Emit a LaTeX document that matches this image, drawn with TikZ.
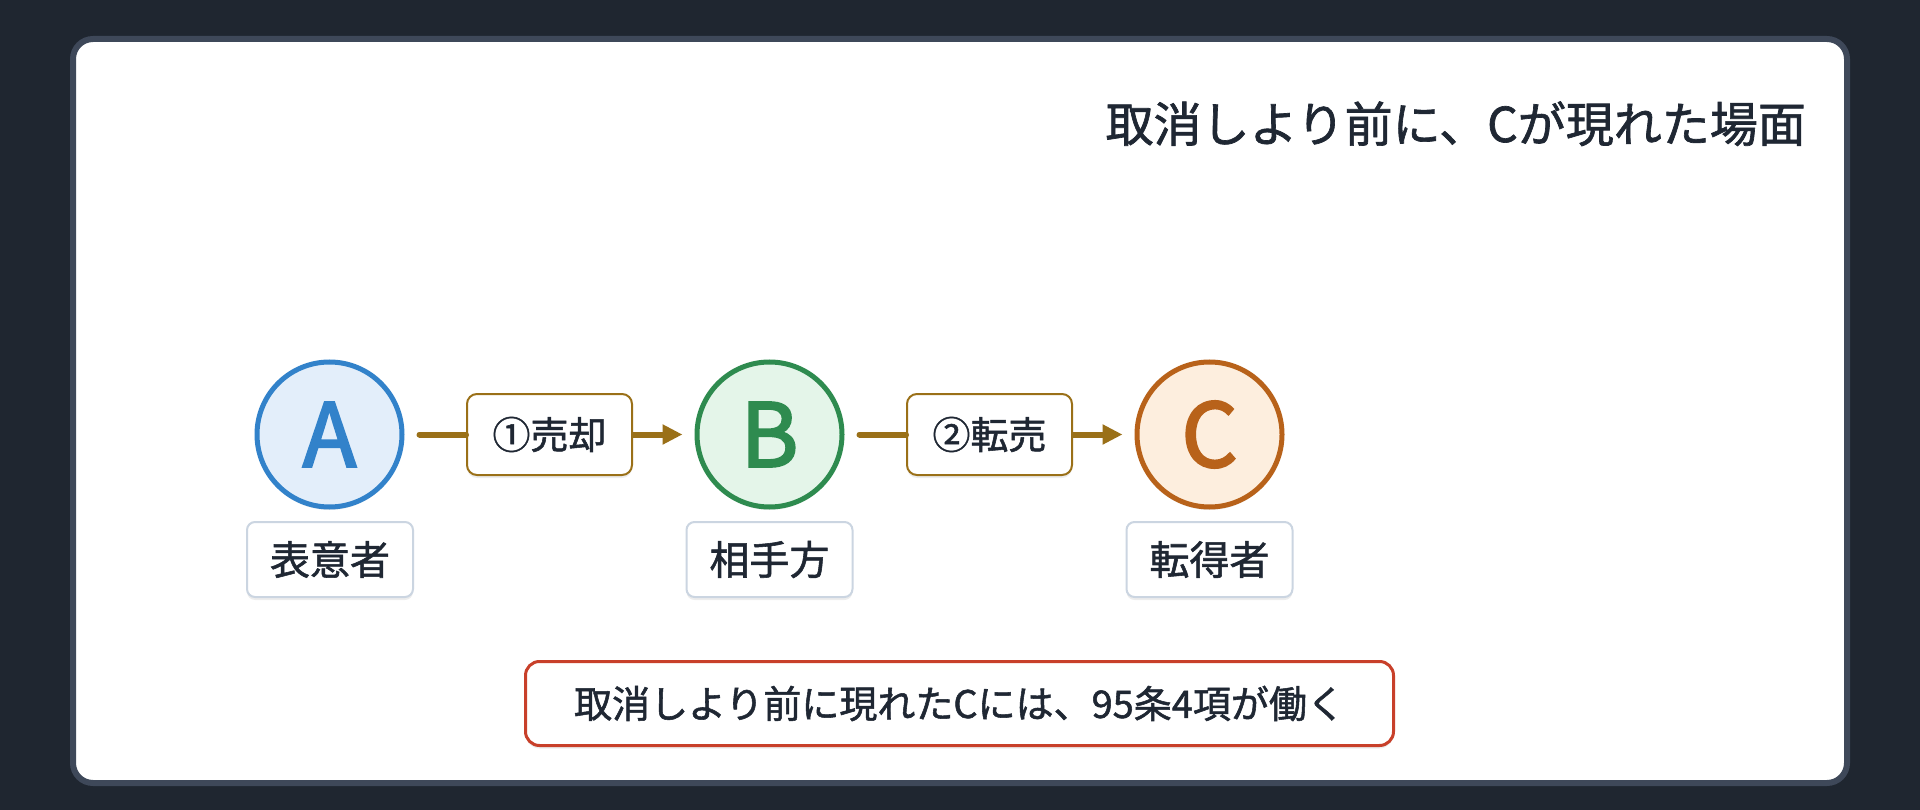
\documentclass[tikz,border=0pt]{standalone}
\usepackage{fontspec}
\setmainfont{Noto Sans CJK JP}[FakeBold=1.4]
\newfontfamily\letterfont{Noto Sans CJK JP}[FakeBold=2.6]
\usetikzlibrary{arrows.meta,shadows}
\definecolor{bgdark}{HTML}{1F2630}
\definecolor{panelborder}{HTML}{3E4859}
\definecolor{ink}{HTML}{1F2733}
\definecolor{blueS}{HTML}{3282CA}
\definecolor{blueF}{HTML}{E3EEFA}
\definecolor{greenS}{HTML}{2E8B4F}
\definecolor{greenF}{HTML}{E4F5E9}
\definecolor{orangeS}{HTML}{B8621A}
\definecolor{orangeF}{HTML}{FDEEDE}
\definecolor{gold}{HTML}{9A7018}
\definecolor{labelborder}{HTML}{CBD5E1}
\definecolor{redS}{HTML}{C8402A}
\tikzset{
  softshadow/.style={drop shadow={shadow xshift=0pt,shadow yshift=-3pt,opacity=0.07,fill=black}},
  party/.style={circle,minimum size=145pt,inner sep=0pt,line width=5pt,softshadow,
    font=\letterfont\fontsize{88}{100}\selectfont},
  rolebox/.style={rectangle,rounded corners=8pt,draw=labelborder,line width=2pt,fill=white,
    minimum width=166pt,minimum height=75pt,inner sep=0pt,text=ink,softshadow,
    font=\fontsize{40}{48}\selectfont},
  actbox/.style={rectangle,rounded corners=10pt,draw=gold,line width=2pt,fill=white,
    minimum width=165pt,minimum height=81pt,inner sep=0pt,text=ink,softshadow,
    font=\fontsize{38}{46}\selectfont},
  conn/.style={draw=gold,line width=6pt},
  connend/.style={conn,-{Triangle[length=20pt,width=19pt]}},
  notebox/.style={rectangle,rounded corners=14pt,draw=redS,line width=3pt,fill=white,
    minimum width=868pt,minimum height=84pt,inner sep=0pt,text=ink,softshadow,
    font=\fontsize{38}{46}\selectfont},
  titletext/.style={inner sep=0pt,text=ink,font=\fontsize{48}{58}\selectfont}
}
\begin{document}
\begin{tikzpicture}[x=1pt,y=-1pt]
\useasboundingbox (0,0) rectangle (1920,810);
\fill[bgdark] (0,0) rectangle (1920,810);
\draw[rounded corners=20pt,line width=6pt,draw=panelborder,fill=white] (73,39) rectangle (1847,783);

\node[titletext,anchor=base east] (title) at (1806,142) {取消しより前に、Cが現れた場面};

\node[party,draw=blueS,fill=blueF,text=blueS] (A) at (329.5,434.5) {A};
\node[party,draw=greenS,fill=greenF,text=greenS] (B) at (769.5,434.5) {B};
\node[party,draw=orangeS,fill=orangeF,text=orangeS] (C) at (1209.5,434.5) {C};

\node[rolebox] (rA) at (330,559.5) {表意者};
\node[rolebox] (rB) at (769.5,559.5) {相手方};
\node[rolebox] (rC) at (1209.5,559.5) {転得者};

\node[actbox] (l1) at (549.5,434.5) {①売却};
\node[actbox] (l2) at (989.5,434.5) {②転売};

\draw[conn,line cap=round,shorten <=15pt] (A) -- (l1);
\draw[connend,shorten >=12pt] (l1) -- (B);
\draw[conn,line cap=round,shorten <=15pt] (B) -- (l2);
\draw[connend,shorten >=12pt] (l2) -- (C);

\node[notebox] (note) at (959.5,703.5) {取消しより前に現れたCには、95条4項が働く};
\end{tikzpicture}
\end{document}
